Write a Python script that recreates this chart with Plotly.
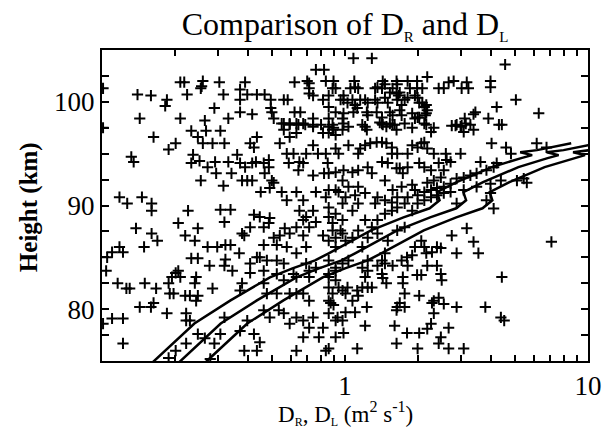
import plotly.graph_objects as go

# ---- observed D_R values (m^2 s^-1) and heights (km), read region by region ----
obs_top_left = [
    [0.14,100.7],[0.159,100.6],[0.143,98.4],[0.182,99.6],[0.185,100.2],[0.21,101.9],[0.218,101.9],
    [0.21,98.4],[0.224,100.7],[0.26,102.0],[0.257,101.5],[0.255,101.3],[0.265,98.2],[0.29,99.4],
    [0.304,101.9],[0.316,100.7],[0.331,98.4],[0.388,101.9],[0.37,101.2],[0.396,100.7],[0.37,100.2],
    [0.37,99.0],[0.415,98.8],[0.434,100.7],[0.467,100.7],[0.495,100.2],[0.495,99.4],[0.5,99.0],
    [0.509,98.4],[0.56,100.2],[0.581,100.2],[0.62,101.9],[0.62,99.0],[0.655,99.0],[0.56,97.9],
    [0.592,97.8],[0.759,103.1],[0.82,103.1],[0.699,102.0],[0.712,101.8],[0.712,101.3],[0.712,100.8],
    [0.739,100.6],[0.834,102.0],[0.897,102.0],[0.915,101.3],[0.889,101.3],[0.812,100.2],[0.857,100.6],
    [0.959,100.2],[0.986,100.6],[0.739,98.4],[0.797,97.8],[0.857,98.4],[0.889,97.8],[0.977,98.4],
    [0.643,97.8],[0.686,97.8],[0.739,97.8],[0.857,99.5],[0.915,99.0],[0.101,101.3],[0.101,97.5],
]

obs_top_right = [
    [1.083,104.2],[1.29,104.2],[4.56,103.6],[1.092,102.0],[1.10,101.4],[1.053,101.3],[1.133,101.3],
    [1.33,101.3],[1.36,101.4],[1.42,101.3],[1.43,102.0],[1.46,101.7],[1.53,100.9],[1.57,101.3],
    [1.63,102.0],[1.64,101.7],[1.68,100.9],[1.66,100.6],[1.81,102.0],[1.85,101.3],[1.98,102.0],
    [1.98,101.3],[2.08,101.3],[2.18,102.4],[2.43,101.3],[2.55,101.3],[2.67,101.9],[2.80,102.0],
    [3.02,101.3],[3.17,101.9],[3.22,101.3],[3.97,102.0],[3.97,101.4],[0.986,100.2],[1.024,99.9],
    [1.073,100.2],[1.10,99.7],[1.123,99.4],[1.083,99.0],[0.986,98.9],[0.986,97.9],[1.155,100.2],
    [1.21,100.2],[1.24,99.9],[1.23,99.0],[1.24,98.7],[1.178,97.8],[1.21,97.6],[1.33,100.2],
    [1.36,99.9],[1.35,99.0],[1.42,98.5],[1.39,98.0],[1.43,97.8],[1.46,100.4],[1.50,99.9],
    [1.53,99.0],[1.57,98.7],[1.53,97.9],[1.60,97.8],[1.63,100.8],[1.64,100.2],[1.71,99.7],
    [1.68,99.2],[1.71,98.7],[1.76,100.2],[1.81,100.4],[1.94,100.6],[1.99,100.4],[2.02,99.9],
    [2.08,99.9],[2.12,99.5],[2.16,99.7],[2.18,99.2],[2.16,98.9],[2.14,98.7],[1.89,98.9],
    [1.94,98.4],[1.99,98.5],[2.02,98.5],[2.16,97.8],[3.44,99.0],[3.38,98.8],[3.11,98.4],
    [3.14,97.9],[3.02,97.7],[2.85,97.7],[2.75,97.7],[3.28,97.8],[3.89,98.4],[4.21,99.5],
    [5.05,100.2],[6.27,98.9],[4.30,97.8],[4.42,97.8],
]

obs_lower_left = [
    [0.163,96.6],[0.188,95.4],[0.201,96.0],[0.233,97.2],[0.248,96.6],[0.268,97.2],[0.26,96.0],
    [0.285,96.0],[0.307,97.2],[0.319,96.0],[0.237,94.9],[0.233,94.1],[0.252,94.3],[0.272,93.7],
    [0.292,94.2],[0.295,93.1],[0.316,91.9],[0.331,94.2],[0.341,93.1],[0.255,92.4],[0.132,94.7],
    [0.135,94.2],[0.36,94.9],[0.37,94.1],[0.388,93.7],[0.407,96.0],[0.422,95.6],[0.434,96.6],
    [0.415,94.1],[0.43,94.2],[0.463,94.1],[0.467,93.1],[0.486,94.4],[0.486,93.7],[0.509,92.2],
    [0.49,91.7],[0.45,91.3],[0.377,92.4],[0.396,92.4],[0.415,92.4],[0.539,96.0],[0.576,95.0],
    [0.614,95.0],[0.587,94.1],[0.649,94.2],[0.692,95.0],[0.739,95.8],[0.774,95.0],[0.834,95.0],
    [0.849,94.1],[0.643,93.4],[0.673,94.1],[0.549,97.9],[0.592,97.9],[0.631,97.9],[0.673,97.9],
    [0.56,97.3],[0.592,96.6],[0.631,97.0],[0.739,97.6],[0.812,97.0],[0.857,97.0],[0.889,97.3],
    [0.915,96.8],[0.977,97.3],[0.739,92.9],[0.82,93.1],[0.857,93.1],[0.977,92.4],[0.986,93.4],
    [0.118,90.8],[0.127,90.2],[0.146,90.8],[0.16,90.2],[0.16,89.5],[0.226,89.5],[0.307,89.6],
    [0.338,89.6],[0.319,88.4],[0.206,88.3],[0.138,87.8],[0.16,87.3],[0.169,86.6],[0.118,86.0],
    [0.11,85.5],[0.105,85.0],[0.122,85.5],[0.149,86.0],[0.248,87.8],[0.241,86.6],[0.272,86.0],
    [0.298,86.0],[0.322,86.2],[0.338,86.2],[0.22,87.1],[0.104,83.7],[0.116,82.5],[0.126,82.0],
    [0.13,82.0],[0.15,82.5],[0.167,82.0],[0.143,80.2],[0.159,80.2],[0.163,80.6],[0.188,82.5],
    [0.194,83.1],[0.201,83.5],[0.206,83.7],[0.19,81.5],[0.197,81.5],[0.21,83.1],[0.233,84.9],
    [0.248,84.9],[0.244,83.1],[0.241,82.5],[0.23,81.3],[0.248,81.3],[0.244,80.8],[0.22,81.3],
    [0.285,82.0],[0.11,79.1],[0.122,79.1],[0.101,78.6],[0.122,76.7],[0.185,79.6],[0.222,79.6],
    [0.222,78.9],[0.23,78.9],[0.277,84.2],[0.319,84.2],[0.322,84.8],[0.344,83.7],[0.367,85.4],
    [0.377,87.3],[0.385,87.1],[0.407,87.9],[0.434,85.0],[0.446,85.0],[0.407,84.4],[0.407,83.5],
    [0.377,82.5],[0.37,81.8],[0.422,89.1],[0.446,88.9],[0.463,87.9],[0.486,88.3],[0.49,88.8],
    [0.50,92.4],[0.509,86.9],[0.539,87.1],[0.565,87.8],[0.592,87.3],[0.631,87.9],[0.673,87.1],
    [0.673,88.6],[0.463,86.2],[0.524,86.2],[0.576,86.0],[0.631,85.4],[0.692,86.0],[0.549,91.3],
    [0.576,90.5],[0.631,91.3],[0.673,90.5],[0.649,89.5],[0.739,89.5],[0.759,91.3],[0.834,90.8],
    [0.915,91.5],[0.977,90.2],[0.857,88.9],[0.889,88.3],[0.692,88.9],[0.712,87.9],[0.759,88.4],
    [0.812,87.1],[0.857,86.6],[0.915,86.9],[0.959,87.6],[0.396,78.9],[0.37,77.9],[0.422,77.6],
    [0.446,76.8],[0.434,76.0],[0.385,76.0],[0.319,79.2],[0.307,77.6],[0.29,76.7],[0.265,77.2],
    [0.248,77.6],[0.222,76.7],[0.463,82.5],[0.477,81.5],[0.524,81.5],[0.56,82.8],[0.592,81.5],
    [0.631,81.5],[0.673,81.5],[0.712,80.8],[0.463,79.9],[0.49,79.2],[0.534,79.9],[0.56,79.6],
    [0.592,78.6],[0.631,79.2],[0.673,78.9],[0.712,78.2],[0.739,79.2],[0.812,78.2],[0.857,79.6],
    [0.915,78.9],[0.977,78.9],[0.673,77.3],[0.781,77.3],[0.915,77.3],[0.631,76.0],[0.834,76.0],
    [0.201,76.0],[0.857,82.1],[0.889,81.5],[0.915,82.8],[0.977,81.8],[0.857,80.8],[0.188,75.3],
    [0.279,75.2],[0.524,83.4],[0.614,83.4],[0.524,84.7],[0.56,84.4],[0.477,84.7],[0.463,83.7],
    [0.692,84.4],[0.712,83.7],[0.759,84.0],[0.857,84.7],[0.915,83.7],[0.977,84.4],[0.631,83.1],
    [0.712,83.1],[0.857,83.4],
]

obs_lower_right = [
    [4.60,95.6],[4.82,95.0],[6.15,96.0],[6.75,95.6],[4.01,96.0],[3.61,94.2],[4.21,94.1],
    [5.10,92.4],[5.44,92.6],[5.60,92.2],[7.07,86.5],[3.38,86.5],[3.54,85.4],[2.88,85.4],
    [3.17,87.8],[2.75,87.1],[4.42,83.1],[3.78,80.2],[2.88,80.2],[4.38,79.2],[4.52,78.9],
    [2.43,81.1],[2.55,80.5],[2.50,82.8],[2.48,83.4],[2.32,80.8],[2.18,84.2],[2.39,84.2],
    [2.67,78.2],[2.48,77.3],[2.43,76.7],[2.67,76.2],[3.08,76.2],[2.18,78.1],[2.02,77.7],
    [1.80,77.7],[1.60,78.4],[1.63,76.7],[2.02,81.3],[1.99,76.2],[2.28,80.6],[2.32,79.6],
    [2.26,78.6],[1.94,86.0],[2.12,86.0],[2.06,86.6],[2.39,86.0],[2.48,85.9],[2.28,85.5],
    [2.16,85.4],[1.73,83.1],[1.73,82.5],[1.76,81.5],[1.98,83.3],[2.06,83.3],[1.68,80.6],
    [1.63,79.9],[1.64,80.2],[1.76,80.2],[1.42,83.4],[1.43,83.0],[1.48,82.5],[1.24,83.7],
    [1.21,83.1],[1.24,82.1],[1.178,82.1],[1.29,82.1],[1.123,81.8],[1.133,81.3],[1.073,80.8],
    [1.005,81.5],[1.024,82.1],[0.941,82.1],[0.873,80.6],[0.897,80.4],[1.005,79.7],[1.10,79.7],
    [0.932,79.2],[0.986,77.7],[1.21,78.4],[1.23,80.2],[1.123,76.2],[0.857,76.2],[1.36,84.2],
    [1.57,84.2],[1.81,84.2],[1.71,84.7],[1.46,84.4],[1.80,85.0],[1.89,85.2],
]

obs_dense_core = [
    [0.857,97.6],[0.897,97.5],[1.033,97.6],[1.23,97.3],[1.42,97.9],[1.48,97.6],[1.57,97.8],
    [1.63,97.3],[1.76,97.9],[1.89,97.5],[2.12,97.9],[2.26,97.1],[2.32,97.5],[2.88,97.8],
    [2.99,97.6],[3.08,97.1],[3.38,97.3],[0.915,95.5],[0.941,95.0],[1.033,95.8],[1.133,95.0],
    [1.155,95.5],[1.21,95.8],[1.27,96.0],[1.35,96.1],[1.42,96.1],[1.48,96.0],[1.56,95.6],
    [1.56,95.0],[1.64,95.0],[1.81,95.0],[1.89,95.8],[1.99,95.6],[2.06,96.0],[2.12,96.1],
    [2.18,95.5],[2.32,95.0],[2.60,95.0],[2.62,94.4],[2.99,95.0],[2.43,94.1],[2.72,94.2],
    [0.915,93.2],[1.073,93.2],[1.133,93.4],[1.24,93.7],[1.42,94.2],[1.29,93.1],[1.50,94.1],
    [1.63,93.6],[1.68,93.6],[1.81,93.7],[2.02,94.1],[1.73,93.1],[2.12,93.7],[2.26,93.4],
    [1.46,92.4],[2.48,92.7],[2.55,93.4],[2.32,92.4],[2.18,92.2],[1.94,91.5],[1.71,91.8],
    [1.57,91.5],[1.89,92.0],[0.857,91.5],[0.941,91.3],[1.033,91.8],[1.005,90.8],[1.10,91.0],
    [1.133,91.8],[1.21,91.2],[1.33,90.2],[1.36,90.8],[1.46,90.5],[1.56,90.3],[1.64,90.8],
    [1.81,90.8],[1.99,91.0],[2.12,91.3],[2.26,91.5],[2.39,91.7],[2.55,91.8],[2.72,92.1],
    [2.88,92.6],[3.08,92.7],[3.28,92.9],[3.48,93.1],[3.82,93.4],[4.09,93.7],[0.857,89.8],
    [0.915,89.2],[0.977,88.6],[1.073,89.5],[1.133,90.2],[1.21,88.6],[1.29,87.9],[1.36,88.6],
    [1.46,89.2],[1.56,89.5],[1.64,89.8],[1.76,90.2],[1.89,89.5],[1.99,90.2],[2.12,90.5],
    [2.26,90.8],[2.39,91.0],[2.55,91.2],[2.72,91.3],[3.08,91.5],[3.48,91.8],[3.97,92.1],
    [4.38,92.4],[3.97,91.2],[3.82,90.5],[4.09,89.7],[2.88,90.2],[0.889,87.6],[0.977,87.3],
    [0.915,86.0],[1.005,86.6],[1.073,86.9],[1.133,87.6],[1.178,86.0],[1.24,86.9],[1.36,87.3],
    [1.50,86.6],[1.64,87.6],[1.76,87.9],[1.46,85.4],[1.24,84.7],[1.42,84.7],[1.178,84.0],
    [1.033,84.7],[0.915,84.0],[0.857,83.1],
]

# ---- model profiles D_L (three curves), heights in km ----
profile_heights = [74.66, 75.24, 78.62, 80.85, 83.07, 83.94, 84.71, 85.39, 87.61, 88.86,
                   89.73, 90.51, 91.28, 92.25, 93.70, 94.57, 94.86, 95.14, 95.34, 96.01]
profile_a = [0.158, 0.168, 0.240, 0.338, 0.491, 0.608, 0.753, 0.857, 1.28, 1.74,
             2.23, 2.45, 2.39, 2.88, 4.02, 5.31, 5.89, 5.26, 6.17, 8.53]
profile_b = [0.203, 0.216, 0.308, 0.434, 0.631, 0.781, 0.968, 1.10, 1.64, 2.24,
             2.87, 3.15, 3.07, 3.70, 5.17, 6.82, 7.57, 6.76, 7.93, 10.96]
profile_c = [0.261, 0.277, 0.396, 0.558, 0.810, 1.00, 1.24, 1.41, 2.11, 2.87,
             3.68, 4.04, 3.94, 4.75, 6.63, 8.76, 9.72, 8.68, 10.18, 14.07]

x_tick_values = [0.1, 0.2, 0.3, 0.4, 0.5, 0.6, 0.7, 0.8, 0.9,
                 1, 2, 3, 4, 5, 6, 7, 8, 9, 10]
x_tick_labels = ["", "", "", "", "", "", "", "", "",
                 "1", "", "", "", "", "", "", "", "", "10"]
y_tick_values = [77.5, 80, 82.5, 85, 87.5, 90, 92.5, 95, 97.5, 100, 102.5]
y_tick_labels = ["", "80", "", "", "", "90", "", "", "", "100", ""]

all_obs = obs_top_left + obs_top_right + obs_lower_left + obs_lower_right + obs_dense_core
obs_d = [p[0] for p in all_obs]
obs_h = [p[1] for p in all_obs]

SERIF = "Liberation Serif, Times New Roman, serif"


def small_sub(s, px):
    return "<sub><span style='font-size:%dpx'>%s</span></sub>" % (px, s)


fig = go.Figure()
fig.add_trace(go.Scatter(
    x=obs_d, y=obs_h, mode="markers",
    marker=dict(symbol="cross-thin", size=8, color="black",
                line=dict(width=2, color="black")),
    showlegend=False, hoverinfo="skip",
))
for prof in (profile_a, profile_b, profile_c):
    fig.add_trace(go.Scatter(
        x=prof, y=profile_heights, mode="lines",
        line=dict(color="black", width=2.5),
        showlegend=False, hoverinfo="skip",
    ))

fig.update_layout(
    width=614, height=432,
    margin=dict(l=102, r=17, t=50, b=71),
    paper_bgcolor="white", plot_bgcolor="white",
    font=dict(family=SERIF, color="black"),
    title=dict(text="Comparison of D" + small_sub("R", 15) + " and D" + small_sub("L", 15),
               x=0.5, xref="paper", xanchor="center",
               y=0.945, yref="container", yanchor="middle",
               font=dict(family=SERIF, size=32, color="black")),
    xaxis=dict(
        type="log", range=[-1, 1],
        tickmode="array", tickvals=x_tick_values, ticktext=x_tick_labels,
        ticks="inside", ticklen=6, tickwidth=1.5, tickcolor="black",
        showline=True, linecolor="black", linewidth=2, mirror="ticks",
        showgrid=False, zeroline=False,
        tickfont=dict(family=SERIF, size=27, color="black"),
    ),
    yaxis=dict(
        range=[75, 105],
        tickmode="array", tickvals=y_tick_values, ticktext=y_tick_labels,
        ticks="inside", ticklen=7, tickwidth=1.5, tickcolor="black",
        showline=True, linecolor="black", linewidth=2, mirror="ticks",
        showgrid=False, zeroline=False,
        tickfont=dict(family=SERIF, size=27, color="black"),
    ),
    annotations=[
        dict(text="D" + small_sub("R", 12) + ", D" + small_sub("L", 12)
                  + " (m<sup>2</sup> s<sup>-1</sup>)",
             xref="paper", yref="paper", x=0.5, y=-0.17,
             xanchor="center", yanchor="middle", showarrow=False,
             font=dict(family=SERIF, size=23, color="black")),
        dict(text="<b>Height (km)</b>",
             xref="paper", yref="paper", x=-0.15, y=0.495,
             xanchor="center", yanchor="middle", textangle=-90, showarrow=False,
             font=dict(family=SERIF, size=25, color="black")),
    ],
)

fig.write_html("out.html")
